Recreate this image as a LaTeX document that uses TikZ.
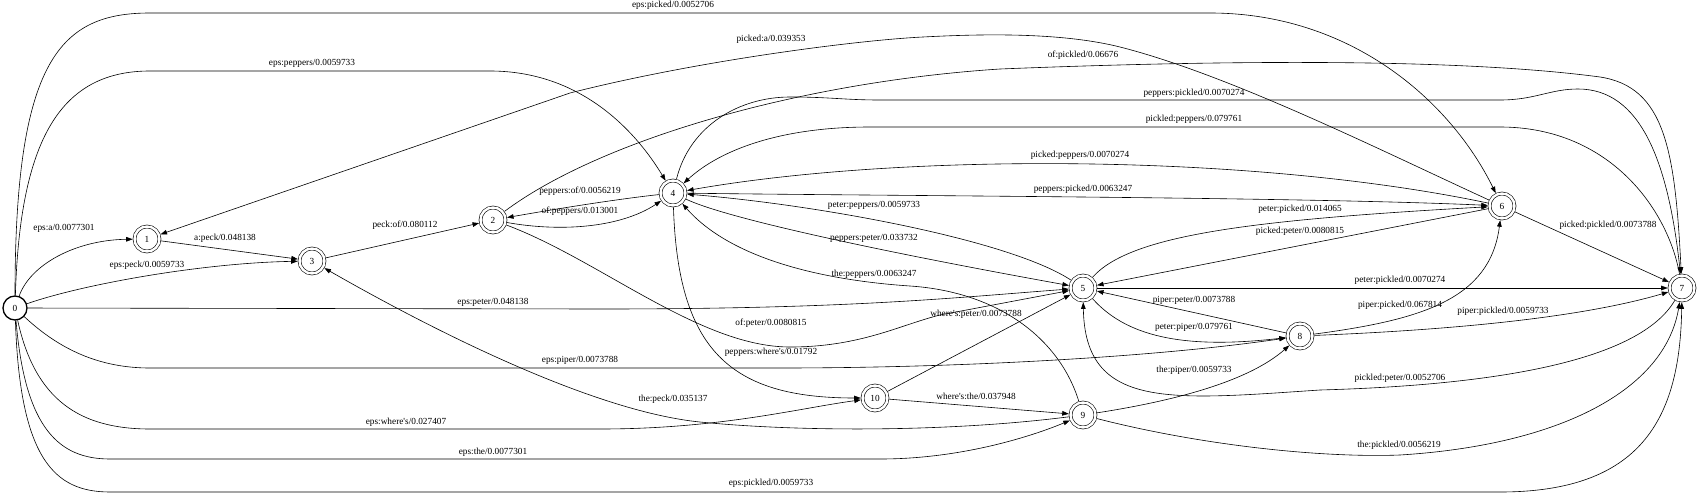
\documentclass[tikz,border=0pt]{standalone}
\usepackage{fontspec}
\setmainfont{Liberation Serif}
\usetikzlibrary{arrows.meta}
\newcommand\lblfont{\fontsize{9.3}{10}\selectfont}
\begin{document}
\begin{tikzpicture}[x=1pt,y=-1pt,
  st/.style={circle, draw, double, double distance=2.4pt, line width=0.6pt, minimum size=25pt, inner sep=0pt, outer sep=1.8pt, font=\lblfont},
  stz/.style={circle, draw, line width=1.3pt, minimum size=24pt, inner sep=0pt, outer sep=0.6pt, font=\lblfont},
  lab/.style={inner sep=0pt, yshift=1.5pt, font=\lblfont},
  arc/.style={-{Triangle[length=6.5pt,width=4.6pt]}, line width=0.6pt}]
\useasboundingbox (0,0) rectangle (1700,495);
% states
\node[stz] (n0) at (15,308) {0};
\node[st] (n1) at (147,239) {1};
\node[st] (n3) at (312,261) {3};
\node[st] (n2) at (493,220) {2};
\node[st] (n4) at (673,193) {4};
\node[st] (n5) at (1083,288) {5};
\node[st] (n10) at (875,398) {10};
\node[st] (n9) at (1083,415) {9};
\node[st] (n6) at (1502,206) {6};
\node[st] (n7) at (1682,288) {7};
\node[st] (n8) at (1300,336) {8};
% arcs
\draw[arc] (n0) .. controls (30,265) and (75,240) .. (n1);
\draw[arc] (n0) .. controls (80,285) and (200,263) .. (n3);
\draw[arc] (n1) -- (n3);
\draw[arc] (n3) -- (n2);
\draw[arc] (n2) .. controls (560,232) and (620,228) .. (n4);
\draw[arc] (n4) .. controls (610,200) and (550,210) .. (n2);
\draw[arc] (n0) .. controls (20,140) and (60,71) .. (150,71) -- (490,71) .. controls (580,71) and (635,130) .. (n4);
\draw[arc] (n0) .. controls (15,60) and (60,13) .. (150,13) -- (1210,13) .. controls (1350,13) and (1450,100) .. (n6);
\draw[arc] (n6) .. controls (1380,150) and (1230,75) .. (1120,47) .. controls (1060,32) and (980,34) .. (923,37) .. controls (860,40) and (700,60) .. (570,93) -- (n1);
\draw[arc] (n2) .. controls (600,140) and (800,82) .. (1000,69) .. controls (1200,61) and (1450,57) .. (1600,77) .. controls (1665,87) and (1675,150) .. (n7);
\draw[arc] (n4) .. controls (690,125) and (740,97) .. (790,97) .. controls (830,97) and (845,100) .. (880,100) -- (1500,100) .. controls (1535,100) and (1550,89) .. (1578,89) .. controls (1640,89) and (1668,160) .. (n7);
\draw[arc] (n7) .. controls (1668,210) and (1610,127) .. (1500,127) -- (870,127) .. controls (780,127) and (720,150) .. (n4);
\draw[arc] (n6) .. controls (1250,153) and (900,153) .. (n4);
\draw[arc] (n4) .. controls (900,196) and (1300,197) .. (n6);
\draw[arc] (n5) .. controls (1010,240) and (820,205) .. (n4);
\draw[arc] (n4) .. controls (730,220) and (900,255) .. (n5);
\draw[arc] (n9) .. controls (1060,340) and (1000,292) .. (910,286) .. controls (820,280) and (730,258) .. (n4);
\draw[arc] (n4) .. controls (678,350) and (730,398) .. (n10);
\draw[arc] (n2) .. controls (600,260) and (700,347) .. (790,347) .. controls (860,347) and (900,325) .. (940,315) -- (n5);
\draw[arc] (n0) -- (600,309) .. controls (850,309) and (950,298) .. (n5);
\draw[arc] (n0) .. controls (60,350) and (100,368) .. (150,368) -- (780,368) .. controls (950,368) and (1150,358) .. (n8);
\draw[arc] (n0) .. controls (35,400) and (80,429) .. (150,429) -- (600,429) .. controls (720,429) and (800,408) .. (n10);
\draw[arc] (n0) .. controls (25,430) and (60,459) .. (110,459) -- (880,459) .. controls (960,459) and (1030,437) .. (n9);
\draw[arc] (n0) .. controls (20,460) and (55,492) .. (110,492) -- (1500,492) .. controls (1640,492) and (1680,420) .. (n7);
\draw[arc] (n10) -- (n5);
\draw[arc] (n10) -- (n9);
\draw[arc] (n9) .. controls (950,432) and (800,432) .. (700,422) .. controls (600,412) and (450,340) .. (n3);
\draw[arc] (n9) .. controls (1180,400) and (1250,380) .. (n8);
\draw[arc] (n9) .. controls (1200,445) and (1320,458) .. (1400,455) .. controls (1560,445) and (1665,390) .. (n7);
\draw[arc] (n7) .. controls (1640,360) and (1500,385) .. (1320,390) .. controls (1170,400) and (1085,410) .. (n5);
\draw[arc] (n5) -- (n7);
\draw[arc] (n8) -- (n5);
\draw[arc] (n5) .. controls (1125,335) and (1180,350) .. (n8);
\draw[arc] (n8) .. controls (1420,320) and (1490,300) .. (n6);
\draw[arc] (n8) .. controls (1450,330) and (1580,318) .. (n7);
\draw[arc] (n5) .. controls (1130,235) and (1250,220) .. (n6);
\draw[arc] (n6) -- (n5);
\draw[arc] (n6) -- (n7);
% labels
\node[lab] (l1) at (64,230) {eps:a/0.0077301};
\node[lab] (l2) at (225,240) {a:peck/0.048138};
\node[lab] (l3) at (405,227) {peck:of/0.080112};
\node[lab] (l4) at (147,267) {eps:peck/0.0059733};
\node[lab] (l5) at (312,65) {eps:peppers/0.0059733};
\node[lab] (l6) at (673,7) {eps:picked/0.0052706};
\node[lab] (l7) at (771,41) {picked:a/0.039353};
\node[lab] (l8) at (1083,57) {of:pickled/0.06676};
\node[lab] (l9) at (1194,95) {peppers:pickled/0.0070274};
\node[lab] (l10) at (1194,121) {pickled:peppers/0.079761};
\node[lab] (l11) at (1080,157) {picked:peppers/0.0070274};
\node[lab] (l12) at (1083,191) {peppers:picked/0.0063247};
\node[lab] (l13) at (580,193) {peppers:of/0.0056219};
\node[lab] (l14) at (580,213) {of:peppers/0.013001};
\node[lab] (l15) at (874,207) {peter:peppers/0.0059733};
\node[lab] (l16) at (874,240) {peppers:peter/0.033732};
\node[lab] (l17) at (874,276) {the:peppers/0.0063247};
\node[lab] (l18) at (1300,211) {peter:picked/0.014065};
\node[lab] (l19) at (1300,233) {picked:peter/0.0080815};
\node[lab] (l20) at (493,304) {eps:peter/0.048138};
\node[lab] (l21) at (771,325) {of:peter/0.0080815};
\node[lab] (l22) at (976,316) {where\textquotesingle s:peter/0.0073788};
\node[lab] (l23) at (771,354) {peppers:where\textquotesingle s/0.01792};
\node[lab] (l24) at (580,362) {eps:piper/0.0073788};
\node[lab] (l25) at (1194,302) {piper:peter/0.0073788};
\node[lab] (l26) at (1194,329) {peter:piper/0.079761};
\node[lab] (l27) at (1400,282) {peter:pickled/0.0070274};
\node[lab] (l28) at (1400,307) {piper:picked/0.067814};
\node[lab] (l29) at (1503,313) {piper:pickled/0.0059733};
\node[lab] (l30) at (1608,227) {picked:pickled/0.0073788};
\node[lab] (l31) at (1194,372) {the:piper/0.0059733};
\node[lab] (l32) at (1400,380) {pickled:peter/0.0052706};
\node[lab] (l33) at (673,401) {the:peck/0.035137};
\node[lab] (l34) at (976,398) {where\textquotesingle s:the/0.037948};
\node[lab] (l35) at (406,424) {eps:where\textquotesingle s/0.027407};
\node[lab] (l36) at (493,454) {eps:the/0.0077301};
\node[lab] (l37) at (1399,447) {the:pickled/0.0056219};
\node[lab] (l38) at (771,485) {eps:pickled/0.0059733};
\end{tikzpicture}
\end{document}
